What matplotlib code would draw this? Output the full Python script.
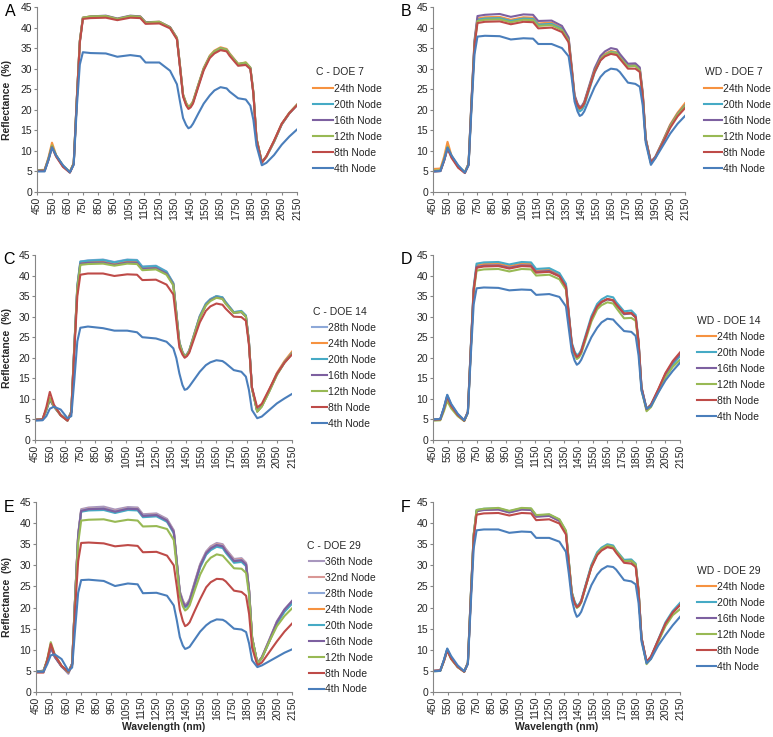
import matplotlib
matplotlib.use("Agg")
import matplotlib.pyplot as plt

plt.rcParams['font.family'] = ['Liberation Sans', 'DejaVu Sans']

wl = [450, 500, 525, 548, 575, 620, 665, 690, 710, 730, 750, 800, 900, 975, 1060, 1125, 1160, 1250, 1320,
      1365, 1385, 1405, 1425, 1440, 1455, 1470, 1505, 1540, 1580, 1610, 1650, 1690, 1710, 1765, 1815,
      1845, 1865, 1885, 1920, 1950, 2000, 2050, 2100, 2150]

# A: C - DOE 7
a_24 = [5.3, 5.4, 8.4, 12.0, 9.0, 6.2, 4.9, 7.0, 22.5, 36.8, 42.4, 42.7, 42.8, 42.1, 42.8, 42.7, 41.3, 41.4, 40.1, 37.5, 30.8, 23.8, 21.7, 20.8, 21.2, 22.1, 26.2, 30.2, 33.2, 34.4, 35.2, 34.8, 33.7, 31.2, 31.5, 30.3, 24.3, 13.2, 7.3, 8.7, 12.4, 16.6, 19.3, 21.3]
a_20 = [5.2, 5.3, 8.0, 11.2, 8.8, 6.3, 4.8, 6.9, 22.3, 36.6, 42.3, 42.6, 42.7, 42.0, 42.7, 42.6, 41.2, 41.3, 40.0, 37.4, 30.6, 23.6, 21.5, 20.6, 21.0, 21.9, 26.0, 30.0, 33.0, 34.2, 35.0, 34.6, 33.5, 31.1, 31.4, 30.2, 24.1, 13.0, 7.2, 8.6, 12.3, 16.5, 19.2, 21.2]
a_16 = [5.2, 5.3, 8.0, 11.1, 8.8, 6.3, 4.8, 6.9, 22.4, 36.7, 42.4, 42.7, 42.9, 42.2, 42.9, 42.7, 41.3, 41.4, 40.1, 37.4, 30.6, 23.5, 21.4, 20.5, 20.9, 21.8, 25.9, 29.9, 32.9, 34.1, 34.9, 34.5, 33.4, 31.0, 31.3, 30.1, 24.0, 12.9, 7.2, 8.6, 12.2, 16.4, 19.1, 21.1]
a_12 = [5.2, 5.3, 8.1, 11.3, 8.9, 6.4, 4.9, 7.0, 22.4, 36.7, 42.4, 42.7, 42.8, 42.1, 42.8, 42.6, 41.2, 41.4, 40.0, 37.4, 30.6, 23.6, 21.5, 20.6, 21.0, 21.9, 26.0, 30.0, 33.0, 34.2, 35.0, 34.6, 33.5, 31.1, 31.5, 30.2, 24.1, 13.0, 7.2, 8.6, 12.3, 16.5, 19.2, 21.2]
a_8 = [5.1, 5.2, 7.8, 10.9, 8.6, 6.1, 4.7, 6.8, 22.0, 36.3, 42.1, 42.3, 42.4, 41.8, 42.4, 42.3, 40.9, 41.0, 39.8, 37.1, 30.3, 23.2, 21.1, 20.2, 20.6, 21.5, 25.6, 29.6, 32.6, 33.7, 34.5, 34.2, 33.1, 30.7, 30.9, 29.9, 23.8, 12.8, 7.1, 8.7, 12.5, 16.6, 19.2, 21.1]
a_4 = [5.0, 5.0, 7.8, 10.8, 8.9, 6.5, 4.8, 6.6, 20.5, 31.0, 34.0, 33.8, 33.7, 32.9, 33.3, 33.0, 31.5, 31.5, 29.5, 26.2, 22.0, 18.0, 16.3, 15.5, 15.8, 16.6, 19.1, 21.5, 23.5, 24.7, 25.5, 25.2, 24.4, 22.8, 22.5, 21.0, 17.5, 11.3, 6.5, 7.1, 9.0, 11.5, 13.5, 15.2]

# B: WD - DOE 7
b_24 = [5.6, 5.7, 8.6, 12.2, 8.8, 6.0, 4.8, 6.9, 22.3, 36.5, 42.2, 42.5, 42.6, 41.9, 42.5, 42.4, 41.0, 41.2, 39.9, 37.2, 30.4, 23.3, 21.3, 20.4, 20.8, 21.7, 25.7, 29.6, 32.5, 33.6, 34.3, 34.0, 33.0, 30.8, 30.9, 29.8, 23.8, 12.9, 7.2, 8.5, 12.4, 16.4, 19.3, 21.6]
b_20 = [5.1, 5.2, 7.8, 10.8, 8.7, 6.3, 4.8, 6.8, 22.0, 36.2, 41.9, 42.2, 42.3, 41.6, 42.2, 42.1, 40.7, 40.9, 39.7, 37.0, 30.0, 22.8, 20.6, 19.6, 20.0, 20.9, 25.0, 29.0, 32.1, 33.3, 34.1, 33.8, 32.8, 30.6, 30.8, 29.7, 23.6, 12.7, 7.0, 8.3, 12.0, 15.9, 18.9, 21.0]
b_16 = [5.0, 5.1, 7.7, 10.7, 8.6, 6.2, 4.7, 6.9, 22.5, 36.9, 42.8, 43.1, 43.3, 42.6, 43.2, 43.1, 41.6, 41.7, 40.4, 37.6, 30.8, 23.6, 21.5, 20.6, 21.0, 21.9, 26.0, 30.1, 33.1, 34.2, 35.0, 34.7, 33.6, 31.2, 31.3, 30.3, 24.2, 13.1, 7.3, 8.6, 12.3, 16.2, 19.0, 21.0]
b_12 = [5.2, 5.3, 7.9, 11.0, 8.7, 6.2, 4.8, 6.8, 21.9, 36.0, 41.6, 41.9, 42.0, 41.3, 41.9, 41.8, 40.4, 40.6, 39.4, 36.8, 30.1, 23.0, 21.0, 20.2, 20.6, 21.5, 25.5, 29.4, 32.3, 33.3, 34.0, 33.7, 32.7, 30.5, 30.7, 29.6, 23.6, 12.8, 7.1, 8.4, 12.1, 16.0, 18.9, 20.9]
b_8 = [5.0, 5.1, 7.6, 10.6, 8.3, 5.9, 4.6, 6.6, 21.6, 35.6, 41.1, 41.4, 41.5, 40.8, 41.4, 41.3, 39.8, 40.0, 38.9, 36.4, 29.9, 22.9, 21.1, 20.3, 20.7, 21.5, 25.4, 29.2, 32.0, 33.0, 33.6, 33.3, 32.4, 30.0, 30.0, 29.2, 23.3, 12.6, 7.2, 8.4, 11.9, 15.6, 18.4, 20.4]
b_4 = [5.0, 5.1, 7.7, 10.8, 8.9, 6.5, 4.7, 6.5, 20.5, 33.5, 37.8, 38.0, 37.9, 37.1, 37.4, 37.3, 36.0, 36.0, 35.0, 33.0, 28.0, 22.0, 19.6, 18.5, 18.8, 19.6, 22.6, 25.5, 28.0, 29.2, 30.0, 29.8, 29.2, 26.6, 26.3, 25.6, 21.0, 12.0, 6.6, 8.2, 11.2, 14.2, 16.6, 18.5]

# C: C - DOE 14
c_28 = [5.0, 5.1, 7.4, 10.0, 8.3, 6.2, 4.8, 6.9, 22.8, 37.5, 43.4, 43.7, 43.9, 43.3, 43.9, 43.8, 42.2, 42.4, 41.0, 38.2, 31.0, 23.8, 21.5, 20.5, 20.9, 21.8, 26.0, 30.2, 33.2, 34.3, 35.0, 34.7, 33.6, 31.1, 31.3, 30.2, 24.0, 12.8, 7.0, 8.4, 12.2, 16.2, 19.0, 21.3]
c_24 = [5.0, 5.1, 7.4, 10.1, 8.3, 6.1, 4.8, 6.9, 22.6, 37.2, 43.0, 43.3, 43.4, 42.8, 43.4, 43.3, 41.8, 42.0, 40.7, 38.0, 30.8, 23.7, 21.4, 20.4, 20.8, 21.7, 25.9, 30.0, 33.0, 34.1, 34.9, 34.6, 33.5, 31.0, 31.2, 30.1, 23.9, 12.7, 7.0, 8.4, 12.2, 16.3, 19.2, 21.5]
c_20 = [4.9, 5.0, 7.3, 9.9, 8.2, 6.1, 4.8, 6.9, 22.8, 37.5, 43.4, 43.6, 43.8, 43.2, 43.8, 43.7, 42.1, 42.3, 40.9, 38.1, 30.9, 23.7, 21.4, 20.4, 20.8, 21.7, 25.9, 30.1, 33.1, 34.2, 35.0, 34.7, 33.6, 31.1, 31.4, 30.3, 24.0, 12.7, 7.0, 8.3, 12.0, 16.0, 18.9, 21.1]
c_16 = [4.9, 5.0, 7.3, 9.8, 8.1, 6.0, 4.7, 6.8, 22.5, 37.0, 42.9, 43.1, 43.2, 42.6, 43.2, 43.1, 41.6, 41.8, 40.5, 37.8, 30.6, 23.5, 21.2, 20.2, 20.6, 21.5, 25.7, 29.8, 32.8, 34.0, 34.7, 34.4, 33.3, 30.9, 31.1, 30.0, 23.8, 12.6, 6.9, 8.2, 11.9, 15.9, 18.8, 21.0]
c_12 = [4.9, 5.0, 7.4, 10.2, 8.2, 6.0, 4.7, 6.8, 22.4, 36.8, 42.6, 42.8, 42.9, 42.4, 42.9, 42.8, 41.3, 41.5, 40.2, 37.6, 30.5, 23.5, 21.3, 20.3, 20.7, 21.6, 25.7, 29.7, 32.7, 33.8, 34.6, 34.3, 33.2, 30.9, 31.2, 30.0, 23.8, 12.5, 6.9, 8.1, 11.8, 15.8, 18.8, 21.0]
c_8 = [4.9, 5.0, 8.0, 11.7, 8.6, 6.0, 4.7, 6.6, 21.5, 35.0, 40.2, 40.5, 40.5, 39.9, 40.3, 40.2, 38.9, 39.0, 37.8, 35.4, 29.0, 22.5, 20.8, 20.0, 20.4, 21.2, 24.9, 28.6, 31.4, 32.5, 33.2, 32.9, 32.0, 30.0, 29.9, 29.0, 23.2, 12.8, 7.9, 8.8, 12.4, 16.1, 18.8, 20.8]
c_4 = [4.7, 4.8, 5.8, 7.6, 8.1, 7.4, 5.3, 5.8, 14.5, 24.0, 27.3, 27.6, 27.2, 26.6, 26.6, 26.2, 25.0, 24.7, 23.9, 22.3, 19.9, 16.2, 13.4, 12.2, 12.4, 13.0, 14.8, 16.6, 18.2, 18.9, 19.4, 19.2, 18.7, 17.0, 16.6, 15.4, 12.2, 7.3, 5.3, 5.7, 7.3, 8.9, 10.1, 11.2]

# D: WD - DOE 14
d_24 = [4.9, 5.0, 7.5, 10.4, 8.2, 6.0, 4.7, 6.8, 22.3, 36.8, 42.5, 42.8, 42.9, 42.3, 42.9, 42.8, 41.2, 41.4, 40.2, 37.6, 30.5, 23.4, 21.2, 20.3, 20.7, 21.6, 25.6, 29.6, 32.6, 33.6, 34.3, 34.0, 33.0, 30.7, 30.8, 29.8, 23.6, 12.6, 7.3, 8.4, 12.2, 16.1, 18.8, 20.8]
d_20 = [5.0, 5.1, 7.8, 10.9, 8.6, 6.3, 4.8, 6.9, 22.6, 37.2, 42.9, 43.2, 43.3, 42.7, 43.3, 43.2, 41.6, 41.8, 40.6, 38.0, 30.8, 23.7, 21.5, 20.6, 21.0, 21.9, 26.0, 30.1, 33.1, 34.2, 35.0, 34.7, 33.6, 31.3, 31.5, 30.4, 24.1, 12.9, 7.6, 8.6, 12.0, 15.6, 18.3, 20.4]
d_16 = [4.9, 5.0, 7.6, 10.6, 8.4, 6.1, 4.7, 6.8, 22.2, 36.6, 42.1, 42.4, 42.5, 41.9, 42.5, 42.4, 40.9, 41.1, 39.9, 37.3, 30.3, 23.2, 21.0, 20.1, 20.5, 21.4, 25.4, 29.4, 32.4, 33.5, 34.2, 33.9, 32.9, 30.6, 30.8, 29.8, 23.6, 12.6, 7.4, 8.4, 12.1, 16.0, 18.9, 20.9]
d_12 = [4.7, 4.8, 7.0, 9.5, 7.7, 5.8, 4.6, 6.6, 21.8, 35.9, 41.2, 41.5, 41.6, 41.0, 41.6, 41.5, 40.0, 40.2, 39.1, 36.6, 29.7, 22.7, 20.6, 19.7, 20.1, 21.0, 24.9, 28.8, 31.8, 32.8, 33.5, 33.2, 32.2, 29.6, 29.7, 29.0, 23.0, 12.2, 7.0, 8.0, 11.6, 15.2, 17.8, 19.5]
d_8 = [4.9, 5.0, 7.6, 10.5, 8.3, 6.1, 4.7, 6.8, 22.1, 36.4, 41.9, 42.2, 42.3, 41.7, 42.3, 42.2, 40.7, 40.9, 39.8, 37.2, 30.2, 23.2, 21.1, 20.2, 20.6, 21.5, 25.5, 29.5, 32.5, 33.6, 34.3, 34.0, 33.0, 30.8, 30.9, 29.9, 23.8, 12.8, 7.5, 8.6, 12.3, 16.3, 19.2, 21.3]
d_4 = [5.0, 5.1, 7.9, 11.0, 8.8, 6.4, 4.8, 6.6, 20.5, 33.0, 36.9, 37.1, 37.0, 36.4, 36.6, 36.5, 35.3, 35.5, 34.8, 32.5, 27.0, 21.5, 19.3, 18.3, 18.7, 19.5, 22.3, 25.0, 27.3, 28.6, 29.5, 29.3, 28.5, 26.5, 26.3, 25.3, 20.5, 12.0, 7.6, 8.2, 11.5, 14.5, 16.8, 18.8]

# E: C - DOE 29
e_36 = [4.9, 5.0, 7.3, 10.5, 8.3, 6.1, 4.3, 6.6, 22.6, 37.4, 43.3, 43.7, 43.9, 43.2, 43.8, 43.7, 42.1, 42.3, 41.0, 38.3, 31.0, 23.9, 21.7, 20.7, 21.1, 22.0, 26.2, 30.3, 33.3, 34.5, 35.3, 35.0, 33.9, 31.5, 31.7, 30.6, 24.3, 13.0, 6.8, 8.3, 12.5, 16.8, 19.6, 21.6]
e_32 = [4.9, 5.0, 7.4, 10.7, 8.4, 6.1, 4.5, 6.6, 22.5, 37.2, 43.1, 43.5, 43.6, 42.9, 43.6, 43.5, 41.9, 42.1, 40.8, 38.1, 30.8, 23.7, 21.5, 20.5, 20.9, 21.8, 26.0, 30.1, 33.1, 34.3, 35.1, 34.8, 33.7, 31.3, 31.5, 30.4, 24.1, 12.9, 6.8, 8.2, 12.3, 16.6, 19.4, 21.4]
e_28 = [4.9, 5.0, 7.4, 10.6, 8.4, 6.1, 4.6, 6.7, 22.5, 37.1, 43.0, 43.4, 43.5, 42.8, 43.5, 43.4, 41.8, 42.0, 40.7, 38.0, 30.7, 23.6, 21.4, 20.4, 20.8, 21.7, 25.9, 30.0, 33.0, 34.1, 34.9, 34.6, 33.5, 31.1, 31.3, 30.3, 24.0, 12.8, 6.8, 8.2, 12.2, 16.5, 19.3, 21.2]
e_24 = [4.9, 5.0, 7.6, 11.0, 8.5, 6.1, 4.7, 6.7, 22.4, 37.0, 42.8, 43.2, 43.3, 42.6, 43.3, 43.2, 41.6, 41.8, 40.5, 37.8, 30.5, 23.4, 21.2, 20.2, 20.6, 21.5, 25.7, 29.8, 32.8, 33.9, 34.7, 34.4, 33.3, 30.9, 31.1, 30.1, 23.9, 12.7, 6.8, 8.1, 12.1, 16.4, 19.2, 21.1]
e_20 = [4.9, 5.0, 7.5, 10.8, 8.4, 6.1, 4.7, 6.7, 22.3, 36.8, 42.7, 43.0, 43.1, 42.4, 43.1, 43.0, 41.4, 41.6, 40.3, 37.6, 30.4, 23.3, 21.0, 20.0, 20.4, 21.3, 25.4, 29.5, 32.5, 33.6, 34.4, 34.1, 33.0, 30.6, 30.8, 29.8, 23.7, 12.6, 6.7, 8.0, 12.0, 16.2, 19.0, 20.9]
e_16 = [4.9, 5.0, 7.4, 10.6, 8.3, 6.0, 4.6, 6.7, 22.4, 37.0, 42.9, 43.3, 43.4, 42.7, 43.4, 43.3, 41.7, 41.9, 40.6, 37.9, 30.6, 23.5, 21.3, 20.3, 20.7, 21.6, 25.8, 29.9, 32.9, 34.0, 34.8, 34.5, 33.4, 31.0, 31.2, 30.2, 24.0, 12.8, 6.8, 8.2, 12.3, 16.6, 19.5, 21.5]
e_12 = [4.8, 4.9, 7.8, 11.8, 8.8, 6.2, 4.7, 6.5, 21.5, 35.3, 40.6, 40.8, 40.9, 40.3, 40.8, 40.6, 39.2, 39.3, 38.6, 36.0, 29.5, 22.6, 20.3, 19.3, 19.7, 20.5, 24.2, 27.8, 30.6, 31.8, 32.6, 32.3, 31.5, 29.3, 29.2, 28.2, 23.0, 12.8, 6.8, 8.0, 12.0, 15.6, 18.0, 19.8]
e_8 = [4.6, 4.6, 7.6, 11.4, 8.7, 6.2, 4.8, 6.3, 19.8, 31.0, 35.3, 35.4, 35.2, 34.5, 34.8, 34.6, 33.1, 33.2, 32.3, 30.0, 25.0, 19.5, 16.8, 15.6, 15.9, 16.5, 19.3, 22.0, 24.8, 26.0, 26.8, 26.7, 26.2, 24.0, 23.7, 22.8, 18.5, 10.5, 6.3, 7.0, 9.5, 12.0, 14.3, 16.2]
e_4 = [4.8, 4.8, 6.6, 8.7, 8.9, 7.8, 5.0, 5.8, 15.0, 23.5, 26.5, 26.6, 26.3, 25.1, 25.7, 25.5, 23.4, 23.5, 22.8, 20.5, 17.0, 13.0, 11.0, 10.2, 10.4, 10.7, 12.5, 14.3, 15.8, 16.6, 17.2, 17.1, 16.7, 15.0, 14.8, 14.2, 11.5, 7.5, 5.9, 6.3, 7.3, 8.3, 9.3, 10.1]

# F: WD - DOE 29
f_24 = [5.0, 5.1, 7.4, 10.0, 7.9, 5.9, 4.8, 6.9, 22.6, 37.1, 42.9, 43.2, 43.3, 42.6, 43.3, 43.2, 41.6, 41.8, 40.6, 37.9, 30.7, 23.5, 21.2, 20.2, 20.6, 21.5, 25.7, 29.8, 32.8, 33.9, 34.7, 34.4, 33.3, 30.9, 31.0, 30.0, 23.9, 12.8, 7.0, 8.2, 12.2, 16.2, 19.0, 20.8]
f_20 = [5.0, 5.1, 7.5, 10.2, 8.0, 6.0, 4.9, 7.0, 22.7, 37.3, 43.1, 43.4, 43.5, 42.8, 43.5, 43.4, 41.8, 42.0, 40.8, 38.1, 30.9, 23.7, 21.4, 20.4, 20.8, 21.7, 25.9, 30.1, 33.1, 34.2, 35.0, 34.7, 33.6, 31.3, 31.4, 30.4, 24.1, 12.9, 7.0, 8.3, 12.4, 16.5, 19.2, 21.1]
f_16 = [5.0, 5.1, 7.4, 10.0, 7.9, 5.9, 4.8, 6.9, 22.5, 37.0, 42.8, 43.1, 43.2, 42.5, 43.2, 43.1, 41.5, 41.7, 40.5, 37.8, 30.6, 23.4, 21.1, 20.1, 20.5, 21.4, 25.6, 29.7, 32.7, 33.8, 34.6, 34.3, 33.2, 30.9, 31.0, 30.0, 23.8, 12.7, 7.0, 8.2, 12.1, 16.0, 18.8, 20.6]
f_12 = [4.9, 5.0, 7.3, 9.9, 7.8, 5.9, 4.8, 6.9, 22.7, 37.3, 43.1, 43.4, 43.6, 42.9, 43.6, 43.5, 41.9, 42.1, 40.9, 38.2, 30.9, 23.6, 21.0, 19.9, 20.3, 21.2, 25.4, 29.6, 32.7, 33.9, 34.7, 34.4, 33.4, 31.0, 31.1, 30.2, 23.9, 12.6, 6.6, 7.9, 11.9, 15.6, 18.2, 19.6]
f_8 = [5.0, 5.1, 7.3, 9.8, 7.9, 6.0, 4.8, 6.8, 22.1, 36.4, 42.0, 42.3, 42.4, 41.8, 42.4, 42.3, 40.7, 40.9, 39.9, 37.3, 30.2, 23.1, 21.0, 20.1, 20.5, 21.4, 25.5, 29.5, 32.4, 33.5, 34.3, 34.0, 33.0, 30.6, 30.4, 29.6, 23.6, 12.9, 7.2, 8.4, 12.3, 16.2, 18.8, 20.6]
f_4 = [4.9, 5.0, 7.6, 10.3, 8.5, 6.3, 4.9, 6.6, 20.8, 34.0, 38.3, 38.5, 38.5, 37.7, 38.0, 37.9, 36.5, 36.5, 35.6, 33.2, 28.0, 22.0, 19.1, 17.8, 18.2, 19.0, 22.2, 25.3, 27.8, 29.0, 29.8, 29.6, 29.0, 26.5, 26.2, 25.5, 21.0, 12.0, 6.8, 7.8, 11.0, 13.5, 15.8, 17.8]

colors = {'4th': '#4A7EBB', '8th': '#BE4B48', '12th': '#98B954', '16th': '#7D60A0',
          '20th': '#46AAC5', '24th': '#F69240', '28th': '#8DA8D8', '32nd': '#D99795',
          '36th': '#A897BE'}

W, H = 773, 737
fig = plt.figure(figsize=(W / 100, H / 100), dpi=100)

def rect(l, t, r, b):
    return [l / W, 1 - b / H, (r - l) / W, (b - t) / H]

# letter, title, axes box (px), series, title pos, legend top-left, handle length, ylabel, xlabel
panels = [
    ('A', 'C - DOE 7', (37, 7, 297, 192), [('24th', a_24), ('20th', a_20), ('16th', a_16), ('12th', a_12), ('8th', a_8), ('4th', a_4)],
     (316, 72), (313, 84), 1.9, True, False),
    ('B', 'WD - DOE 7', (433, 7, 685, 192), [('24th', b_24), ('20th', b_20), ('16th', b_16), ('12th', b_12), ('8th', b_8), ('4th', b_4)],
     (705, 72), (704, 84), 1.7, False, False),
    ('C', 'C - DOE 14', (35, 255, 292, 440), [('28th', c_28), ('24th', c_24), ('20th', c_20), ('16th', c_16), ('12th', c_12), ('8th', c_8), ('4th', c_4)],
     (313, 312), (312, 323), 1.45, True, False),
    ('D', 'WD - DOE 14', (433, 255, 680, 440), [('24th', d_24), ('20th', d_20), ('16th', d_16), ('12th', d_12), ('8th', d_8), ('4th', d_4)],
     (697, 321), (697, 332), 1.8, False, False),
    ('E', 'C - DOE 29', (36, 502, 292, 692), [('36th', e_36), ('32nd', e_32), ('28th', e_28), ('24th', e_24), ('20th', e_20), ('16th', e_16), ('12th', e_12), ('8th', e_8), ('4th', e_4)],
     (307, 546), (309, 557), 1.45, True, True),
    ('F', 'WD - DOE 29', (433, 502, 680, 692), [('24th', f_24), ('20th', f_20), ('16th', f_16), ('12th', f_12), ('8th', f_8), ('4th', f_4)],
     (697, 571), (697, 582), 1.8, False, True),
]

txt = '#262626'
for letter, title, box, series, tpos, lpos, hlen, ylab, xlab in panels:
    l, t, r, b = box
    ax = fig.add_axes(rect(l, t, r, b))
    handles = []
    for name, vals in series:
        ln, = ax.plot(wl, vals, color=colors[name], lw=1.5, label=name + ' Node')
        handles.append(ln)
    ax.set_xlim(450, 2150)
    ax.set_ylim(0, 45)
    ax.set_xticks(range(450, 2151, 100))
    ax.set_yticks(range(0, 46, 5))
    ax.tick_params(axis='x', labelrotation=90, length=2.5, color='#868686', labelsize=7.5, labelcolor=txt, pad=1)
    ax.tick_params(axis='y', length=2.5, color='#868686', labelsize=7.5, labelcolor=txt, pad=1)
    for s in ['top', 'right']:
        ax.spines[s].set_visible(False)
    for s in ['left', 'bottom']:
        ax.spines[s].set_color('#868686')
        ax.spines[s].set_linewidth(0.8)

    fig.text(tpos[0] / W, 1 - tpos[1] / H, title, fontsize=7.5, color=txt, ha='left', va='center')
    ax.legend(handles=handles, loc='upper left', bbox_to_anchor=(lpos[0] / W, 1 - lpos[1] / H),
              bbox_transform=fig.transFigure, frameon=False, fontsize=7.5, handlelength=hlen,
              handletextpad=0.1, labelspacing=0.57, borderpad=0, borderaxespad=0, labelcolor=txt)

    fig.text((l - 32) / W, 1 - (t + 5) / H, letter, fontsize=11.5, color='black', ha='left', va='center')
    if ylab:
        fig.text(7 / W, 1 - (t + b) / 2 / H, 'Reflectance  (%)', rotation=90, fontsize=7.5,
                 fontweight='bold', color=txt, ha='center', va='center')
    if xlab:
        fig.text((l + r) / 2 / W, 1 - 727 / H, 'Wavelength (nm)', fontsize=7.5,
                 fontweight='bold', color=txt, ha='center', va='center')

fig.savefig('out.png', dpi=100)
